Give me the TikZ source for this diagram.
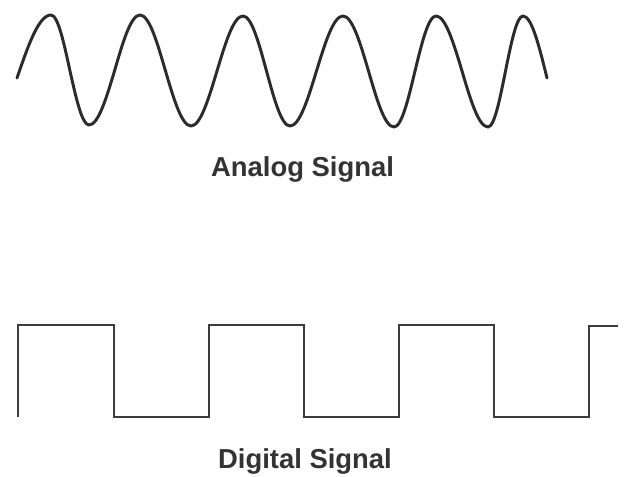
\documentclass[tikz,border=0pt]{standalone}
\usepackage{fontspec}
\usepackage{tikz}
\usepackage{xcolor}
\newfontfamily\labelfont{Liberation Sans}
\definecolor{cA}{HTML}{2b2b2b}
\definecolor{cB}{HTML}{3c3c3c}
\definecolor{cT}{HTML}{333333}
\tikzset{
  analog/.style={cA,line width=2.1pt,line cap=round,line join=round},
  digital/.style={cB,line width=1.5pt,line join=miter},
  siglabel/.style={anchor=base,text=cT,inner sep=0pt,
              font=\labelfont\bfseries\fontsize{19.5}{22}\selectfont},
}
\begin{document}
\begin{tikzpicture}[x=0.025cm,y=-0.025cm]
  \useasboundingbox (0,0) rectangle (625,477);
  % analog: quarter waves between peaks, troughs and mid line
  \draw[analog] (17,78) sin (51,15) cos (70,71) sin (89,125)
    cos (114.5,71) sin (140,15) cos (165.5,71) sin (191,126)
    cos (217,71) sin (243,16) cos (266.5,71) sin (290,126)
    cos (316.5,71) sin (343,16) cos (368.5,71) sin (394,127)
    cos (415,71) sin (436,16) cos (462,71) sin (488,127)
    cos (505.5,71) sin (523,16) cos (547,78);
  \node[siglabel] (analoglbl) at (302.5,177) {Analog Signal};
  % digital: high 325, low 417, half period 95
  \draw[digital] (18,417) -- (18,325) -- (114,325) -- (114,417)
    -- (209,417) -- (209,325) -- (304,325) -- (304,417)
    -- (399,417) -- (399,325) -- (494,325) -- (494,417)
    -- (589,417) -- (589,326) -- (618,326);
  \node[siglabel] (digitallbl) at (305,469) {Digital Signal};
\end{tikzpicture}
\end{document}
